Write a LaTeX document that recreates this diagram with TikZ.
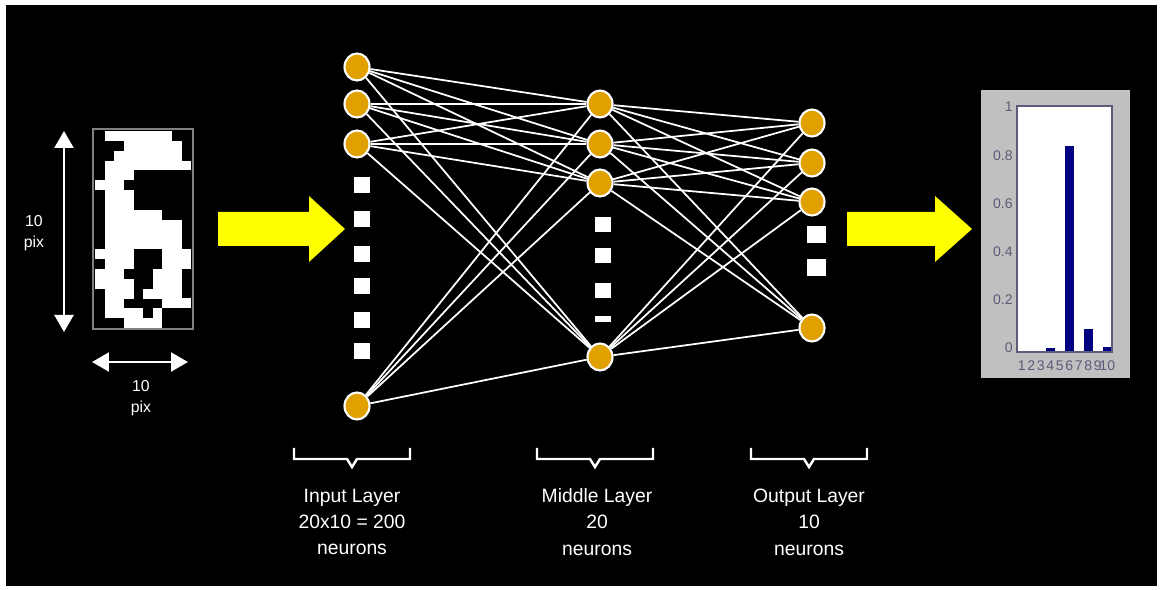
\documentclass[tikz,border=0pt]{standalone}
\usepackage{fontspec}
\setmainfont{Liberation Sans}
\usepackage{tikz}
\usetikzlibrary{positioning,arrows.meta,shapes,calc}
\definecolor{neuronorange}{HTML}{E0A000}
\definecolor{flowyellow}{HTML}{FFFF00}
\definecolor{panelgray}{HTML}{C0C0C0}
\definecolor{frameblue}{HTML}{5C5C7A}
\definecolor{barnavy}{HTML}{000080}
\tikzset{
  neuron/.style={ellipse, fill=neuronorange, draw=white, line width=1.2pt,
    minimum width=0.5cm, minimum height=0.54cm, inner sep=0pt},
  dots/.style={rectangle, fill=white, inner sep=0pt,
    minimum width=0.32cm, minimum height=0.32cm},
  link/.style={draw=white, line width=1pt},
  dimension/.style={draw=white, line width=1.3pt,
    {Triangle[width=0.38cm,length=0.34cm]}-{Triangle[width=0.38cm,length=0.34cm]}},
  flow/.style={fill=flowyellow},
  layerbracket/.pic={
    \draw[white, line width=1.4pt]
      (-58,-11) -- (-58,0) -- (-5,0) -- (0,8) -- (5,0) -- (58,0) -- (58,-11);
  },
  layertext/.style={text=white, align=center, font=\fontsize{11}{15}\selectfont},
  dimtext/.style={text=white, align=center, font=\fontsize{9}{12}\selectfont},
  ticktext/.style={text=frameblue, font=\fontsize{8}{9}\selectfont, inner sep=0pt}
}

\begin{document}
\begin{tikzpicture}[x=0.02cm,y=-0.02cm]
  \useasboundingbox (0,0) rectangle (1162,590);
  \fill[white] (0,0) rectangle (1162,590);
  \fill[black] (6,5) rectangle (1157,586);

  % digit
  \foreach \r/\cols in {0/{1,2,3,4,5,6,7},1/{3,4,5,6,7,8},2/{2,3,4,5,6,7,8},
    3/{1,2,3,4,5,6,7,8,9},4/{1,2,3},5/{0,1,2},6/{1,2,3},7/{1,2,3},
    8/{1,2,3,4,5,6},9/{1,2,3,4,5,6,7,8},10/{1,2,3,4,5,6,7,8},11/{1,2,3,4,5,6,7,8},
    12/{0,1,2,3,7,8,9},13/{1,2,3,7,8,9},14/{0,1,2,6,7,8},15/{0,1,2,3,6,7,8},
    16/{1,2,3,5,6,7,8},17/{1,2,7,8,9},18/{1,2,3,4,6},19/{3,4,5,6}}
    \foreach \c in \cols
      \fill[white] ({95+9.6*\c},{131+9.85*\r}) rectangle ++(9.7,9.95);
  \draw[gray, line width=1.5pt] (93,129) rectangle (193,329);

  \coordinate (pixtop) at (64,131);
  \coordinate (pixbottom) at (64,332);
  \draw[dimension] (pixtop) -- (pixbottom);
  \node[dimtext] (pixheight) at (34,233) {10\\pix};
  \coordinate (pixleft) at (92,362);
  \coordinate (pixright) at (188,362);
  \draw[dimension] (pixleft) -- (pixright);
  \node[dimtext] (pixwidth) at (141,398) {10\\pix};

  \fill[flow] (218,212) -- (309,212) -- (309,196) -- (345,229) -- (309,262)
    -- (309,246) -- (218,246) -- cycle;
  \fill[flow] (847,212) -- (935,212) -- (935,196) -- (972,229) -- (935,262)
    -- (935,246) -- (847,246) -- cycle;

  % layers
  \foreach \n/\y in {1/67,2/104,3/144,4/406}
    \node[neuron] (in\n) at (357,\y) {};
  \foreach \n/\y in {1/104,2/144,3/183,4/357}
    \node[neuron] (mid\n) at (600,\y) {};
  \foreach \n/\y in {1/123,2/163,3/202,4/328}
    \node[neuron] (out\n) at (812,\y) {};
  \foreach \y [count=\k] in {185,219,254,286,320,351}
    \node[dots] (indot\k) at (362,\y) {};
  \foreach \y [count=\k] in {225,256,291}
    \node[dots, minimum height=0.3cm] (middot\k) at (603,\y) {};
  \node[dots, minimum height=0.12cm] (middot4) at (603,319) {};
  \foreach \y [count=\k] in {235,268}
    \node[dots, minimum width=0.38cm, minimum height=0.34cm] (outdot\k) at (816,\y) {};
  \foreach \a in {1,...,4}
    \foreach \b in {1,...,4} {
      \draw[link] (in\a) -- (mid\b);
      \draw[link] (mid\a) -- (out\b);
    }

  \pic at (352,459) {layerbracket};
  \pic at (595,459) {layerbracket};
  \pic at (809,459) {layerbracket};
  \node[layertext] (inputlabel) at (352,522) {Input Layer\\20x10 = 200\\neurons};
  \node[layertext] (middlelabel) at (597,522) {Middle Layer\\20\\neurons};
  \node[layertext] (outputlabel) at (809,522) {Output Layer\\10\\neurons};

  % output chart
  \fill[panelgray] (981,90) rectangle (1130,378);
  \fill[white] (1017,106) rectangle (1112,352);
  \foreach \k/\v in {4/0.012,6/0.85,8/0.09,10/0.015}
    \fill[barnavy] ({1017+9.5*(\k-1)+0.5},351) rectangle ++(8.5,{-241*\v});
  \draw[frameblue, line width=1.2pt] (1017,106) rectangle (1112,352);
  \foreach \v [count=\k from 0] in {0,0.2,0.4,0.6,0.8,1}
    \node[ticktext, anchor=east] (ytick\k) at (1013,{348-48.2*\k}) {\v};
  \foreach \k in {1,...,10}
    \node[ticktext] (xtick\k) at ({1017+9.5*(\k-0.5)},366) {\k};
\end{tikzpicture}
\end{document}
